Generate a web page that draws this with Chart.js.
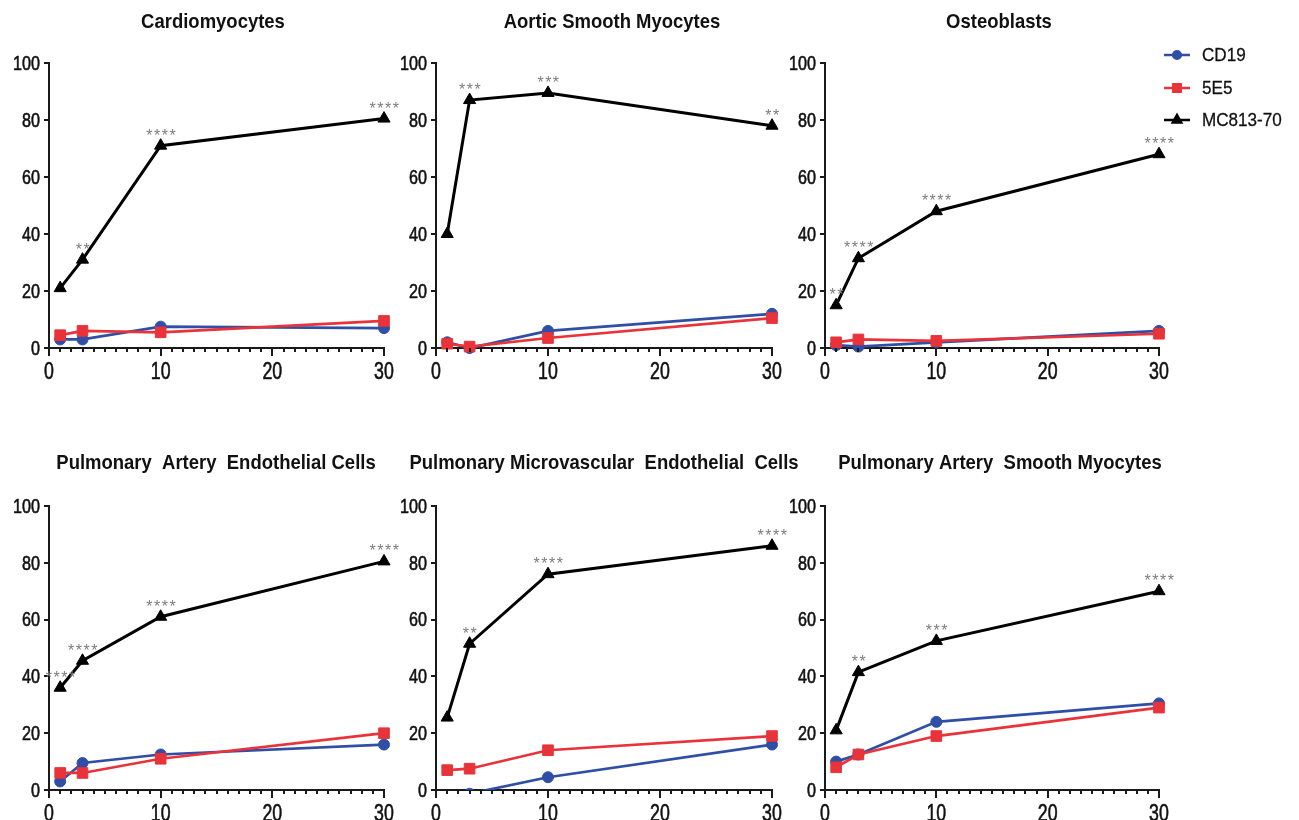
<!DOCTYPE html>
<html>
<head>
<meta charset="utf-8">
<script src="https://cdn.jsdelivr.net/npm/chart.js@4.4.1/dist/chart.umd.min.js"></script>
<style>
  html, body { margin: 0; padding: 0; background: #fff; }
  body { position: relative; width: 1299px; height: 820px; overflow: hidden; }
  canvas { position: absolute; }
</style>
</head>
<body>
<script>
// ---- data ----
const days = [1, 3, 10, 30];
const panelTitles = [
  'Cardiomyocytes',
  'Aortic Smooth Myocytes',
  'Osteoblasts',
  'Pulmonary  Artery  Endothelial Cells',
  'Pulmonary Microvascular  Endothelial  Cells',
  'Pulmonary Artery  Smooth Myocytes'
];
const seriesNames = ['CD19', '5E5', 'MC813-70'];
const cd19 = [
  [3, 3, 7.5, 7],
  [2, 0, 6, 12],
  [1, 0.5, 2, 6],
  [3, 9.5, 12.5, 16],
  [-4, -1.3, 4.5, 16],
  [10, 12.5, 24, 30.5]
];
const e5e5 = [
  [4.5, 6, 5.5, 9.5],
  [1.5, 0.5, 3.5, 10.5],
  [2, 3, 2.5, 5],
  [6, 6, 11, 20],
  [7, 7.5, 14, 19],
  [8, 12.5, 19, 29]
];
const mc81370 = [
  [21, 31, 71, 80.5],
  [40, 87, 89.5, 78],
  [15, 31.5, 48, 68],
  [36, 45.5, 61, 80.5],
  [25.5, 51.5, 76, 86],
  [21, 41.5, 52.5, 70]
];
const significance = [
  ['', '**', '****', '****'],
  ['', '***', '***', '**'],
  ['**', '****', '****', '****'],
  ['****', '****', '****', '****'],
  ['', '**', '****', '****'],
  ['', '**', '***', '****']
];
const yTicks = [0, 20, 40, 60, 80, 100];
const xTicks = [0, 10, 20, 30];

// ---- styling and layout ----
const FONT = "'Liberation Sans', Arial, sans-serif";
const BLUE = '#2f4fa6';
const RED = '#e8333b';
const BLACK = '#000000';
const AXIS = '#1a1a1a';
const TEXT = '#111111';
const STAR = '#7d7d7d';

const colLeft = [49, 436, 825];
const colRight = [384, 772, 1159];
const rowTop = [63, 506];
const rowBottom = [348, 790];
const titleCenterX = [[213, 612, 999], [216, 604, 1000]];
const titleCenterY = [22, 463];
const AXIS_W = 49;
const AXIS_H = 45;
const PAD_RIGHT = 40;
const LEGEND_PAD_RIGHT = 140;
const legendPos = { markerX: 1177, textX: 1202, ys: [55, 88, 120] };

// narrow lettering: regular faces squeezed horizontally
const TITLE_FONT = { css: 'bold 21px ' + FONT, sx: 0.88, stroke: 0 };
const YLABEL_FONT = { css: '21px ' + FONT, sx: 0.77, stroke: 0.6 };
const XLABEL_FONT = { css: '24px ' + FONT, sx: 0.74, stroke: 0.6 };
const LEGEND_FONT = { css: '19px ' + FONT, sx: 0.9, stroke: 0.3 };

Chart.defaults.font.family = FONT;
Chart.defaults.animation = false;

const seriesStyle = [
  { color: BLUE, pointStyle: 'circle', radius: 5.5, width: 2.7 },
  { color: RED, pointStyle: 'rect', radius: 7.5, width: 2.7 },
  { color: BLACK, pointStyle: 'triangle', radius: 7, width: 3 }
];

function drawText(ctx, text, x, y, f, align, baseline, color) {
  ctx.save();
  ctx.translate(x, y);
  ctx.scale(f.sx, 1);
  ctx.font = f.css;
  ctx.fillStyle = color;
  ctx.textAlign = align;
  ctx.textBaseline = baseline;
  ctx.fillText(text, 0, 0);
  if (f.stroke) {
    ctx.strokeStyle = color;
    ctx.lineWidth = f.stroke;
    ctx.strokeText(text, 0, 0);
  }
  ctx.restore();
}

const panelDecor = {
  id: 'panelDecor',
  afterDatasetsDraw(chart, args, opts) {
    const ctx = chart.ctx;
    const xs = chart.scales.x;
    const ys = chart.scales.y;
    const area = chart.chartArea;

    // minor ticks on the x axis, one per unit
    ctx.save();
    ctx.strokeStyle = AXIS;
    ctx.lineWidth = 2;
    for (let v = 1; v < 30; v++) {
      if (v % 10 === 0) continue;
      const px = Math.round(xs.getPixelForValue(v));
      ctx.beginPath();
      ctx.moveTo(px, area.bottom);
      ctx.lineTo(px, area.bottom + 4);
      ctx.stroke();
    }
    ctx.restore();

    // tick labels
    yTicks.forEach(v => {
      drawText(ctx, String(v), area.left - 9, ys.getPixelForValue(v) + 1, YLABEL_FONT, 'right', 'middle', TEXT);
    });
    xTicks.forEach(v => {
      drawText(ctx, String(v), xs.getPixelForValue(v), area.bottom + 24, XLABEL_FONT, 'center', 'middle', TEXT);
    });

    // significance stars above the MC813-70 points
    const meta = chart.getDatasetMeta(0);
    ctx.save();
    ctx.fillStyle = STAR;
    ctx.font = '16px ' + FONT;
    ctx.textAlign = 'center';
    ctx.textBaseline = 'alphabetic';
    if ('letterSpacing' in ctx) ctx.letterSpacing = '1.5px';
    opts.stars.forEach((s, i) => {
      if (!s) return;
      const p = meta.data[i];
      ctx.fillText(s, p.x + 1, p.y - 5);
    });
    ctx.restore();

    // panel title
    drawText(ctx, opts.title, opts.titleX, opts.titleY, TITLE_FONT, 'center', 'middle', TEXT);

    // legend (only on one panel)
    if (opts.legend) {
      const lg = opts.legend;
      const order = [2, 1, 0]; // dataset indices for CD19, 5E5, MC813-70
      order.forEach((di, k) => {
        const ds = chart.data.datasets[di];
        const y = lg.ys[k];
        ctx.save();
        ctx.strokeStyle = ds.borderColor;
        ctx.fillStyle = ds.backgroundColor;
        ctx.lineWidth = 2.5;
        ctx.beginPath();
        ctx.moveTo(lg.markerX - 13, y);
        ctx.lineTo(lg.markerX + 13, y);
        ctx.stroke();
        Chart.helpers.drawPoint(ctx, {
          pointStyle: ds.pointStyle,
          radius: ds.pointRadius * 0.7,
          rotation: 0,
          borderWidth: 1
        }, lg.markerX, y);
        ctx.restore();
        drawText(ctx, ds.label, lg.textX, y + 1, LEGEND_FONT, 'left', 'middle', TEXT);
      });
    }
  }
};

function makeDataset(name, values, style, clip) {
  return {
    label: name,
    data: days.map((d, i) => ({ x: d, y: values[i] })),
    borderColor: style.color,
    backgroundColor: style.color,
    pointBackgroundColor: style.color,
    pointBorderColor: style.color,
    pointStyle: style.pointStyle,
    pointRadius: style.radius,
    pointBorderWidth: 1,
    borderWidth: style.width,
    tension: 0,
    clip: clip
  };
}

for (let p = 0; p < 6; p++) {
  const row = Math.floor(p / 3);
  const col = p % 3;
  const areaW = colRight[col] - colLeft[col];
  const areaH = rowBottom[row] - rowTop[row];
  const padRight = (p === 2) ? LEGEND_PAD_RIGHT : PAD_RIGHT;
  const left = colLeft[col] - AXIS_W;
  const top = rowTop[row] - 63;
  const width = AXIS_W + areaW + padRight;
  const height = 63 + areaH + AXIS_H;

  const canvas = document.createElement('canvas');
  canvas.width = width;
  canvas.height = height;
  canvas.style.left = left + 'px';
  canvas.style.top = top + 'px';
  canvas.style.width = width + 'px';
  canvas.style.height = height + 'px';
  document.body.appendChild(canvas);

  const free = { left: false, top: false, right: false, bottom: false };
  const floorClip = { left: false, top: false, right: false, bottom: 0 };
  const anyNegative = cd19[p].some(v => v < 0);

  new Chart(canvas, {
    type: 'line',
    data: {
      datasets: [
        makeDataset(seriesNames[2], mc81370[p], seriesStyle[2], free),
        makeDataset(seriesNames[1], e5e5[p], seriesStyle[1], free),
        makeDataset(seriesNames[0], cd19[p], seriesStyle[0], anyNegative ? floorClip : free)
      ]
    },
    options: {
      responsive: false,
      devicePixelRatio: 1,
      layout: { padding: { left: 0, top: 63, right: padRight, bottom: 0 } },
      plugins: {
        legend: { display: false },
        title: { display: false },
        tooltip: { enabled: false },
        panelDecor: {
          stars: significance[p],
          title: panelTitles[p],
          titleX: titleCenterX[row][col] - left,
          titleY: titleCenterY[row] - top,
          legend: (p === 2) ? {
            markerX: legendPos.markerX - left,
            textX: legendPos.textX - left,
            ys: legendPos.ys.map(y => y - top)
          } : null
        }
      },
      scales: {
        x: {
          type: 'linear',
          min: 0,
          max: 30,
          afterBuildTicks: s => { s.ticks = xTicks.map(v => ({ value: v })); },
          afterFit: s => { s.height = AXIS_H; },
          ticks: { display: false },
          grid: { drawOnChartArea: false, drawTicks: true, tickLength: 8, color: AXIS, lineWidth: 2 },
          border: { color: AXIS, width: 2 }
        },
        y: {
          type: 'linear',
          min: 0,
          max: 100,
          afterBuildTicks: s => { s.ticks = yTicks.map(v => ({ value: v })); },
          afterFit: s => { s.width = AXIS_W; },
          ticks: { display: false },
          grid: { drawOnChartArea: false, drawTicks: true, tickLength: 5, color: AXIS, lineWidth: 2 },
          border: { color: AXIS, width: 2 }
        }
      }
    },
    plugins: [panelDecor]
  });
}
</script>
</body>
</html>
